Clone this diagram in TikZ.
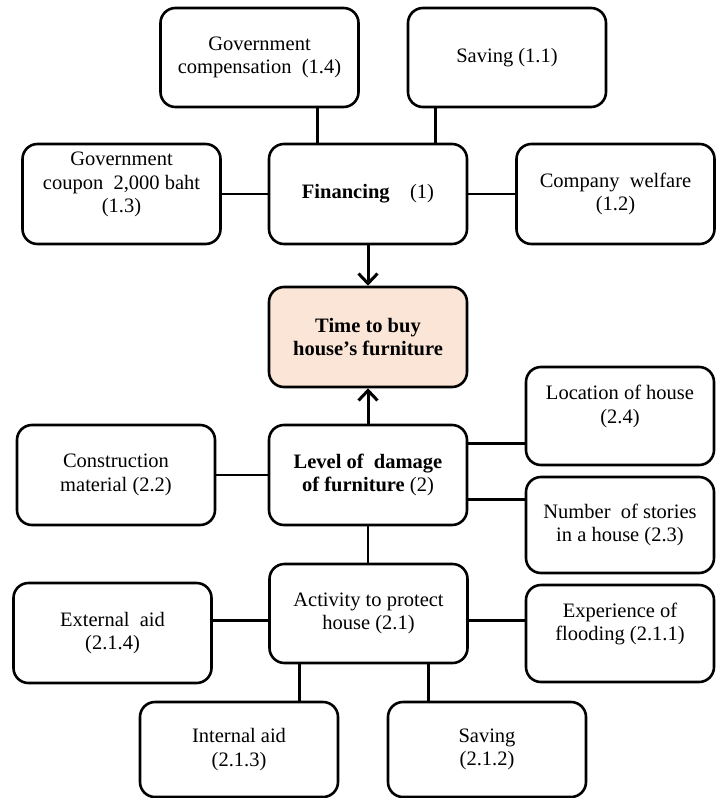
\documentclass[tikz,border=0pt]{standalone}
\usepackage{fontspec}
\setmainfont{Liberation Serif}
\usetikzlibrary{arrows.meta}
\definecolor{peach}{HTML}{FBE5D6}
\tikzset{
  box/.style={draw, line width=2.6pt, rounded corners=15pt, align=center,
    inner sep=2pt, font=\fontsize{20.5}{23.5}\selectfont, fill=white},
  wide/.style={box, minimum width=198pt, minimum height=99pt},
  narrow/.style={box, minimum width=188pt, minimum height=97pt},
  link/.style={line width=2.8pt},
  flow/.style={line width=3pt, -{Straight Barb[length=10pt,width=19pt,line width=3pt]}},
}
\begin{document}
\begin{tikzpicture}[x=1pt,y=-1pt]
\useasboundingbox (0,0) rectangle (716,798);

% financing branch
\node[wide] (gcomp)  at (259.5,57.5) {Government\\compensation\ \ (1.4)};
\node[wide] (sav11)  at (507,57.5)   {Saving (1.1)};
\node[wide, minimum height=100pt] (gcoup) at (121.5,194) {Government\\coupon\ \ 2,000 baht\\(1.3)\\[0pt]{}};
\node[wide, minimum height=100pt] (fin)   at (368,194)   {\textbf{Financing}\hspace{1em}(1)};
\node[wide, minimum height=100pt] (comp)  at (615.5,194) {Company\ \ welfare\\(1.2)};

% outcome
\node[wide, minimum height=100pt, fill=peach] (time) at (368,337) {\textbf{Time to buy}\\\textbf{house’s furniture}};

% damage branch
\node[wide, minimum height=100pt] (constr) at (116,475) {Construction\\material (2.2)};
\node[wide, minimum height=100pt] (level)  at (368,475) {\textbf{Level of\ \ damage}\\\textbf{of furniture}\ (2)};
\node[narrow, minimum height=98pt] (loc) at (620,416) {Location of house\\(2.4)\\[0pt]{}};
\node[narrow, minimum height=96pt] (num) at (620,525) {Number\ \ of stories\\in a house (2.3)};

% protection activities
\node[wide] (act) at (368.5,613.5) {Activity to protect\\house (2.1)};
\node[wide, minimum height=100pt] (ext) at (112.5,633) {External\ \ aid\\(2.1.4)};
\node[narrow] (exper) at (620,633.5) {Experience of\\flooding (2.1.1)\\[0pt]{}};
\node[wide, minimum height=95pt] (inta)  at (239,749.5) {Internal aid\\(2.1.3)};
\node[wide, minimum height=95pt] (sav212) at (487,749.5) {Saving\\(2.1.2)};

% connectors (shifts are in page units: positive yshift points up)
\draw[link] ([xshift=50pt]fin.north west) -- ([xshift=50pt]fin.north west |- gcomp.south);
\draw[link] ([xshift=-33pt]fin.north east) -- ([xshift=-33pt]fin.north east |- sav11.south);
\draw[link] (gcoup.east) -- (fin.west);
\draw[link] (fin.east) -- (comp.west);
\draw[flow] (fin.south) -- (time.north);
\draw[flow] (level.north) -- (time.south);
\draw[link] (constr.east) -- (constr.east -| level.west);
\draw[link] ([yshift=-20pt]level.north east) -- ([yshift=-20pt]level.north east -| loc.west);
\draw[link] ([yshift=27pt]level.south east) -- ([yshift=27pt]level.south east -| num.west);
\draw[link] (level.south) -- (level.south |- act.north);
\draw[link] ([yshift=-58pt]act.north west) -- ([yshift=-58pt]act.north west -| ext.east);
\draw[link] ([yshift=-58pt]act.north east) -- ([yshift=-58pt]act.north east -| exper.west);
\draw[link] ([xshift=31pt]act.south west) -- ([xshift=31pt]act.south west |- inta.north);
\draw[link] ([xshift=-40pt]act.south east) -- ([xshift=-40pt]act.south east |- sav212.north);
\end{tikzpicture}
\end{document}
